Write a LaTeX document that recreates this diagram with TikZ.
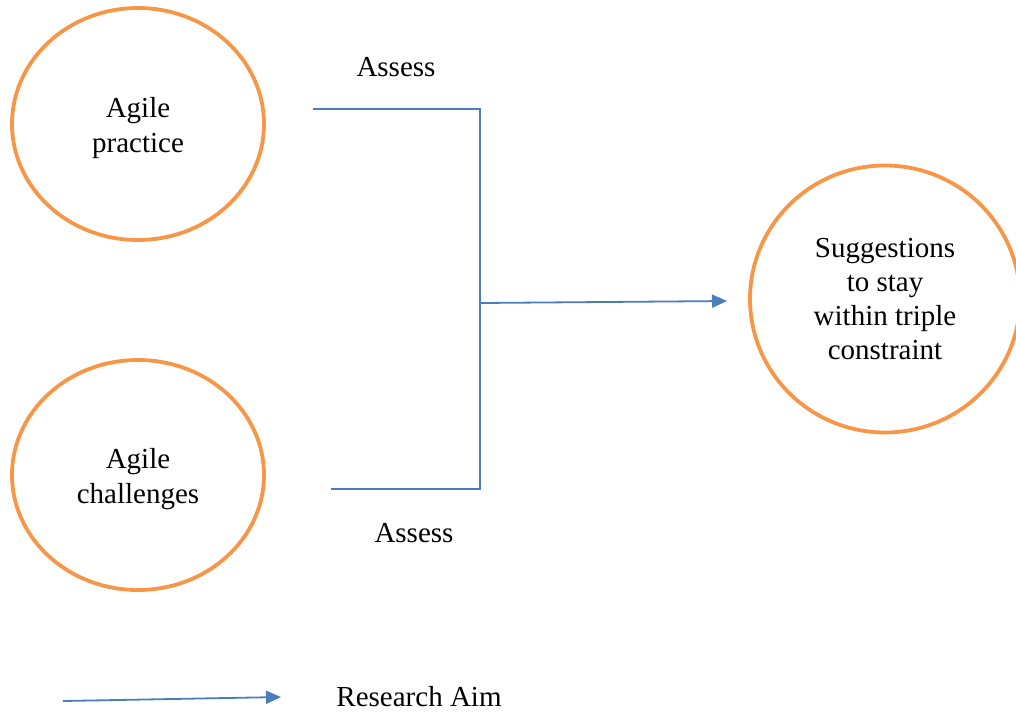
\documentclass[tikz,border=0pt]{standalone}
\usepackage{fontspec}
\setmainfont{Liberation Serif}
\usetikzlibrary{shapes.geometric,arrows.meta}
\definecolor{ringorange}{RGB}{247,150,70}
\definecolor{linkblue}{RGB}{74,126,187}
\newcommand{\lowstrut}{\rule{0pt}{28pt}}
\tikzset{
  ring/.style={ellipse,draw=ringorange,line width=3.8pt,inner sep=0pt,align=center},
  link/.style={draw=linkblue,line width=1.8pt},
  aimarrow/.style={link,-{Triangle[length=15pt,width=13pt]}}
}
\begin{document}
\begin{tikzpicture}[x=1pt,y=-1pt, every node/.style={font=\fontsize{29}{34.3}\selectfont}]
    \useasboundingbox (0,0) rectangle (1016,713);
    \clip (0,0) rectangle (1016,713);
    % Circles
    \node[ring,minimum width=252pt,minimum height=232pt] (practice) at (138,124) {\lowstrut Agile\\practice};
    \node[ring,minimum width=252pt,minimum height=230pt] (challenges) at (138,475) {\lowstrut Agile\\challenges};
    \node[ring,minimum width=270pt,minimum height=267pt] (suggest) at (885,299) {Suggestions\\to stay\\within triple\\constraint};

    % Bracket joining the two inputs
    \coordinate (pstart) at (313,109);
    \coordinate (ptop) at (480,109);
    \coordinate (cbot) at (480,489);
    \coordinate (cstart) at (331,489);
    \coordinate (join) at (480,303);
    \coordinate (tip) at (727,301);
    \draw[link] (pstart) -- (ptop) -- (cbot) -- (cstart);
    \draw[aimarrow] (join) -- (tip);

    % Labels
    \node (assesstop) at (396,67) {Assess};
    \node (assessbot) at (414,533) {Assess};

    % Legend
    \coordinate (legstart) at (63,701);
    \coordinate (legtip) at (281,697);
    \draw[aimarrow] (legstart) -- (legtip);
    \node (legend) at (419,697) {Research Aim};
\end{tikzpicture}
\end{document}
